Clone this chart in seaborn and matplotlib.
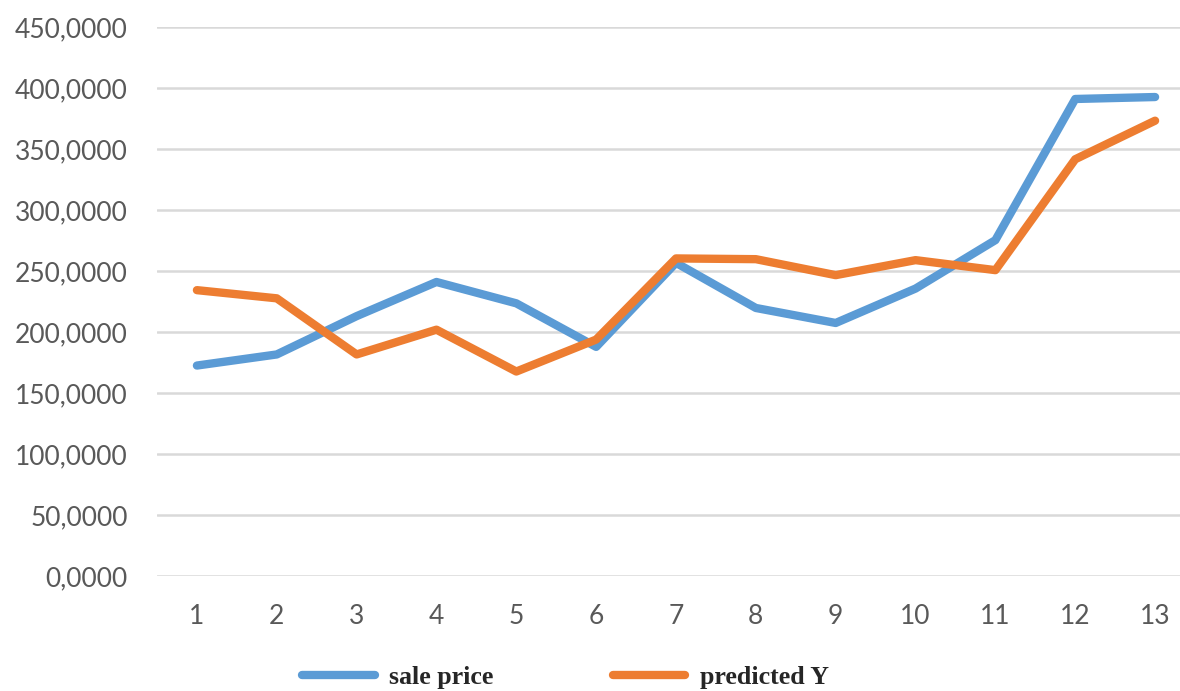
import matplotlib
matplotlib.use("Agg")
import matplotlib.pyplot as plt
import seaborn as sns
import pandas as pd
from matplotlib.ticker import FuncFormatter
from matplotlib.lines import Line2D

periods = list(range(1, 14))
sale_price = [172.5, 181.6, 213.0, 241.0, 223.5, 187.8, 256.7, 219.7, 207.4, 235.6, 275.3, 391.0, 392.6]
predicted_y = [234.3, 227.6, 181.6, 201.9, 167.6, 193.8, 260.3, 259.7, 246.6, 258.9, 250.7, 341.6, 373.2]
series_names = ["sale price", "predicted Y"]
colors = ["#5B9BD5", "#ED7D31"]
y_ticks = [0, 50, 100, 150, 200, 250, 300, 350, 400, 450]

df = pd.DataFrame({
    "x": periods * 2,
    "y": sale_price + predicted_y,
    "series": [series_names[0]] * len(periods) + [series_names[1]] * len(periods),
})

sns.set_style("white")
plt.rcParams["font.family"] = ["Lato", "DejaVu Sans"]

W, H = 1180, 691
fig = plt.figure(figsize=(W / 100, H / 100), dpi=100)
left, right, bottom, top = 157, 1195, 576, 27
ax = fig.add_axes([left / W, (H - bottom) / H, (right - left) / W, (bottom - top) / H])

sns.lineplot(data=df, x="x", y="y", hue="series", palette=colors, linewidth=6.0,
             ax=ax, legend=False, solid_capstyle="round", solid_joinstyle="round", zorder=3)

ax.set_xlim(0.5, 13.5)
ax.set_ylim(0, 450)
ax.set_yticks(y_ticks)
ax.set_xticks(periods)
ax.set_xticklabels([str(p) for p in periods])
ax.yaxis.set_major_formatter(FuncFormatter(lambda v, p: f"{v:.4f}".replace(".", ",")))
ax.grid(axis="y", color="#D9D9D9", linewidth=1.8, zorder=0)
ax.grid(axis="x", visible=False)
for s in ax.spines.values():
    s.set_visible(False)
ax.tick_params(axis="both", length=0, labelsize=19, labelcolor="#595959")
ax.tick_params(axis="y", pad=21)
ax.tick_params(axis="x", pad=20)
ax.set_xlabel("")
ax.set_ylabel("")

handles = [Line2D([0], [0], color=c, linewidth=6.0, solid_capstyle="round") for c in colors]
leg = fig.legend(handles, series_names, loc="center", bbox_to_anchor=(0.479, 14 / H), ncol=2,
                 frameon=False, borderpad=0, handlelength=2.8, handletextpad=0.55,
                 columnspacing=4.6, prop={"family": "Liberation Serif", "weight": "bold", "size": 18.7})

fig.savefig("out.png", dpi=100)
